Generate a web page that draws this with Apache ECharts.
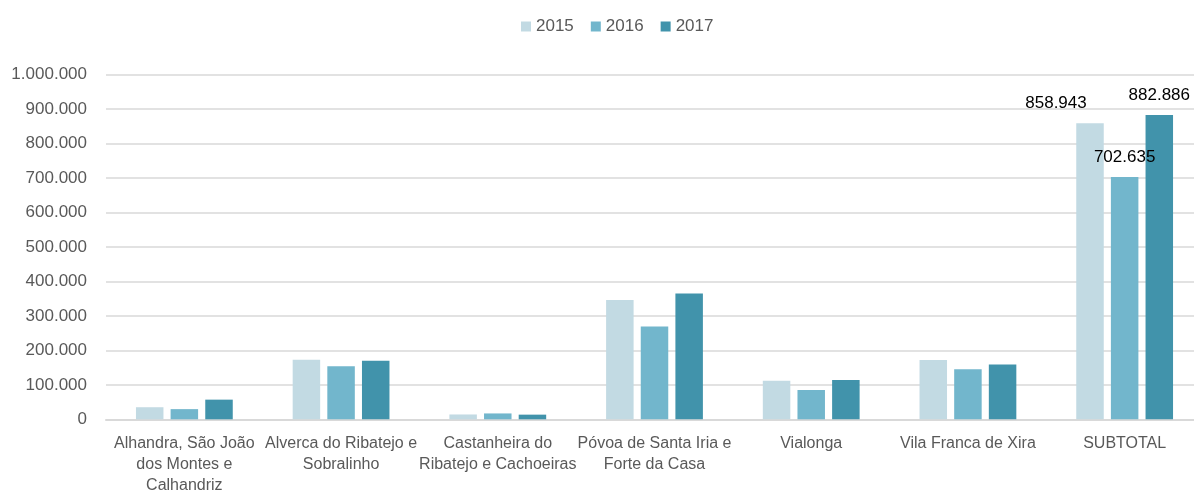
<!DOCTYPE html>
<html>
<head>
<meta charset="utf-8">
<script src="https://cdn.jsdelivr.net/npm/echarts@6/dist/echarts.min.js"></script>
<style>
  html, body { margin: 0; padding: 0; background: #fff; }
  #chart { width: 1194px; height: 493px; }
</style>
</head>
<body>
<div id="chart"></div>
<script>
// categorias (freguesias) tal como aparecem no eixo
var categories = [
    'Alhandra, São João\ndos Montes e\nCalhandriz',
    'Alverca do Ribatejo e\nSobralinho',
    'Castanheira do\nRibatejo e Cachoeiras',
    'Póvoa de Santa Iria e\nForte da Casa',
    'Vialonga',
    'Vila Franca de Xira',
    'SUBTOTAL'
];
var years = ['2015', '2016', '2017'];
var values2015 = [35000, 173000, 14000, 346000, 112000, 172000, 858943];
var values2016 = [29500, 154000, 17000, 269000, 85000, 145000, 702635];
var values2017 = [57000, 170000, 13500, 365000, 114000, 159000, 882886];
var yTicks = [0, 100000, 200000, 300000, 400000, 500000, 600000, 700000, 800000, 900000, 1000000];

var FONT = "'Liberation Sans', Arial, sans-serif";
var colors = ['#c2dae3', '#72b6cc', '#4193ab'];

// formato 1.000.000
var fmt = function(v){
    return String(Math.round(v)).replace(/\B(?=(\d{3})+(?!\d))/g, '.');
};

// so o SUBTOTAL leva rotulo
var lastLabel = function(offsetX){
    return {
        show: true,
        position: 'top',
        distance: 11,
        offset: [offsetX, 0],
        color: '#000',
        fontFamily: FONT,
        fontSize: 17,
        formatter: function(p){
            return p.dataIndex == categories.length - 1 ? fmt(p.value) : '';
        }
    };
};

var makeSeries = function(name, data, color, offsetX){
    return {
        name: name,
        type: 'bar',
        data: data,
        barWidth: 27.5,
        barGap: '26%',
        itemStyle: { color: color },
        label: lastLabel(offsetX),
        emphasis: { disabled: true }
    };
};

var myChart = echarts.init(document.getElementById('chart'));
var option = {
    animation: false,
    color: colors,
    textStyle: { fontFamily: FONT },
    legend: {
        data: years,
        left: 516,
        top: 13,
        icon: 'rect',
        itemWidth: 10,
        itemHeight: 10,
        itemGap: 17,
        textStyle: { color: '#595959', fontSize: 17, fontFamily: FONT }
    },
    grid: {
        left: 106,
        top: 74.5,
        width: 1097,
        bottom: 73.7,
        outerBoundsMode: 'none',
        containLabel: false
    },
    xAxis: {
        type: 'category',
        data: categories,
        axisTick: { show: false },
        axisLine: { lineStyle: { color: '#d9d9d9', width: 2 } },
        axisLabel: {
            interval: 0,
            margin: 14,
            color: '#595959',
            fontSize: 16,
            lineHeight: 21,
            fontFamily: FONT,
            align: 'center'
        }
    },
    yAxis: {
        type: 'value',
        min: yTicks[0],
        max: yTicks[yTicks.length - 1],
        interval: yTicks[1] - yTicks[0],
        axisLine: { show: false },
        axisTick: { show: false },
        axisLabel: {
            margin: 19,
            color: '#595959',
            fontSize: 17,
            fontFamily: FONT,
            formatter: fmt
        },
        splitLine: { lineStyle: { color: '#d9d9d9', width: 1.5 } }
    },
    series: [
        makeSeries(years[0], values2015, colors[0], -34),
        makeSeries(years[1], values2016, colors[1], 0),
        makeSeries(years[2], values2017, colors[2], 0)
    ]
};
myChart.setOption(option);
</script>
</body>
</html>
